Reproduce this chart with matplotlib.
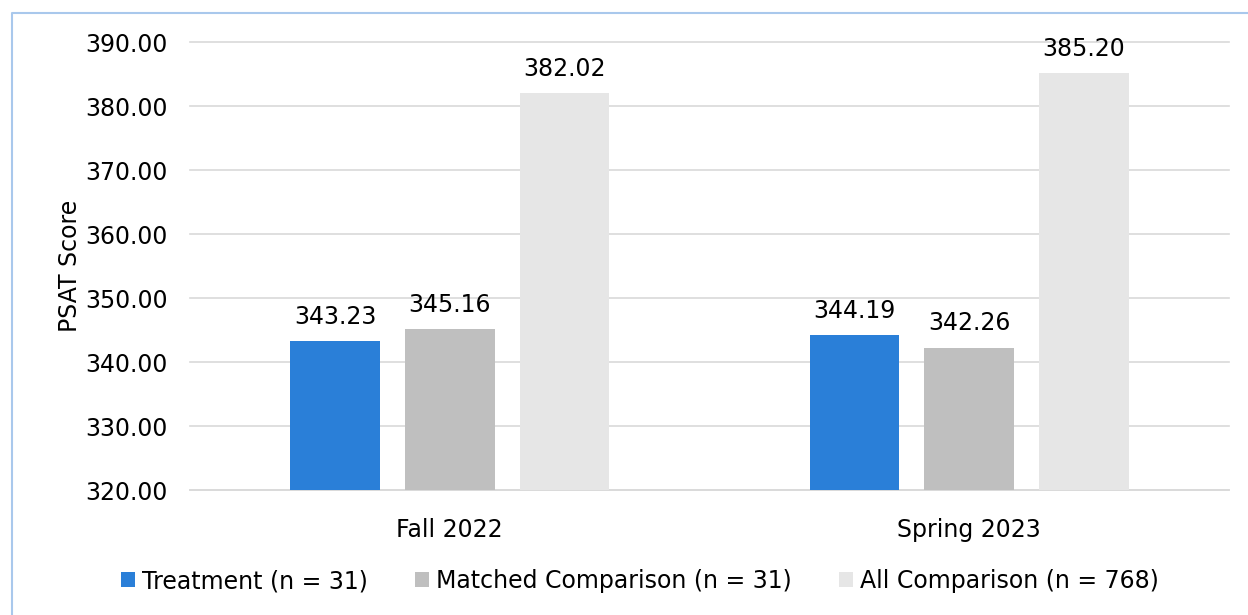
import matplotlib
matplotlib.use("Agg")
import matplotlib.pyplot as plt
from matplotlib.patches import Patch
from matplotlib.lines import Line2D
import numpy as np

categories = ["Fall 2022", "Spring 2023"]
series_names = ["Treatment (n = 31)", "Matched Comparison (n = 31)", "All Comparison (n = 768)"]
treatment = [343.23, 344.19]
matched = [345.16, 342.26]
all_comp = [382.02, 385.20]
yticks = [320, 330, 340, 350, 360, 370, 380, 390]

colors = ["#2a7fd8", "#bfbfbf", "#e6e6e6"]

plt.rcParams["font.family"] = ["DejaVu Sans"]
fig = plt.figure(figsize=(12.48, 6.15), dpi=100)
ax = fig.add_axes([190 / 1248, 1 - 490 / 615, (1229 - 190) / 1248, (490 - 42) / 615])

x = np.arange(len(categories))
width = 0.173
offset = 0.221
fs = 17

for i, (vals, col) in enumerate(zip([treatment, matched, all_comp], colors)):
    pos = x + (i - 1) * offset
    ax.bar(pos, [v - 320 for v in vals], bottom=320, width=width, color=col, zorder=3)
    for p, v in zip(pos, vals):
        ax.text(p, v + 1.9, f"{v:.2f}", ha="center", va="bottom", fontsize=fs, color="#000000")

ax.set_xlim(-0.5, 1.5)
ax.set_ylim(320, 390)
ax.set_yticks(yticks)
ax.set_yticklabels([f"{t:.2f}" for t in yticks], fontsize=fs)
ax.set_xticks(x)
ax.set_xticklabels(categories, fontsize=fs)
ax.tick_params(axis="both", length=0)
ax.tick_params(axis="y", pad=16)
ax.tick_params(axis="x", pad=20)
ax.grid(axis="y", color="#d9d9d9", linewidth=1.2, zorder=0)
for gl in ax.get_ygridlines():
    gl.set_clip_on(False)
for s in ["top", "right", "left"]:
    ax.spines[s].set_visible(False)
ax.spines["bottom"].set_color("#d9d9d9")
ax.spines["bottom"].set_linewidth(1.2)
ax.set_ylabel("PSAT Score", fontsize=fs, labelpad=2)

handles = [Patch(facecolor=c, edgecolor="none") for c in colors]
fig.legend(handles, series_names, loc="center", bbox_to_anchor=(640 / 1248, 1 - 581 / 615),
           ncol=3, frameon=False, fontsize=fs, handlelength=0.6, handleheight=0.6,
           handletextpad=0.3, columnspacing=2.0)

# outer frame (left and top edges)
fig.add_artist(Line2D([11.5 / 1248, 11.5 / 1248, 1.0], [0.0, 1 - 12.5 / 615, 1 - 12.5 / 615],
                      transform=fig.transFigure, color="#a9c8ec", linewidth=1.5))

fig.savefig("out.png", dpi=100)
